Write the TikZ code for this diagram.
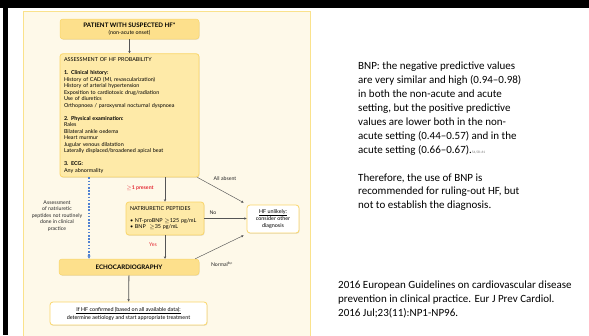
\documentclass[tikz,border=0pt]{standalone}
\usepackage{fontspec}
\setmainfont{Carlito}
\newfontfamily\flowfont{Lato}
\usetikzlibrary{positioning,shadows,arrows.meta}
\definecolor{panelback}{RGB}{254,249,233}
\definecolor{panelline}{RGB}{250,226,140}
\definecolor{boxgold}{RGB}{253,224,140}
\definecolor{boxlight}{RGB}{254,234,168}
\definecolor{boxedge}{RGB}{250,214,105}
\definecolor{arrowgrey}{RGB}{85,85,85}
\definecolor{labelred}{RGB}{228,40,50}
\definecolor{dotblue}{RGB}{80,130,210}

\tikzset{
  flowbox/.style={rounded corners=3pt,inner sep=4pt,font=\flowfont\fontsize{5.4}{6.5}\selectfont,
    drop shadow={opacity=0.18,shadow xshift=0.6pt,shadow yshift=-0.9pt}},
  goldbox/.style={flowbox,fill=boxgold,draw=boxedge,line width=0.5pt},
  lightbox/.style={flowbox,fill=boxlight,draw=boxedge,line width=0.8pt},
  whitebox/.style={flowbox,fill=white,draw=boxedge,line width=0.8pt},
  flowarrow/.style={draw=arrowgrey,line width=0.8pt,-{Stealth[length=2.4pt,width=2.4pt]}},
  thinarrow/.style={flowarrow,line width=0.45pt},
  dotarrow/.style={draw=dotblue,line width=1.3pt,dash pattern=on 1.6pt off 1.6pt,
    -{Stealth[length=3.2pt,width=3.4pt]}},
  flowlabel/.style={font=\flowfont\fontsize{5.2}{6.5}\selectfont,inner sep=0pt,text=black!85},
  redlabel/.style={flowlabel,text=labelred},
  sidetext/.style={font=\fontsize{11}{13.9}\selectfont,align=left,anchor=north west,inner sep=0pt}
}

\begin{document}
\begin{tikzpicture}[x=1pt,y=-1pt]
\useasboundingbox (0,0) rectangle (589,335);
% slide frame
\fill [white] (0,0) rectangle (589,335);
\filldraw [fill=panelback,draw=panelline,line width=0.6pt] (23,11) rectangle (310,337);
\fill [black] (0,0) rectangle (589,7.5);
\fill [black] (2.5,0) rectangle (8,335);

% flowchart
\node [goldbox,minimum width=139pt,minimum height=20pt,align=center] (patient) at (129.5,29)
  {{\bfseries\fontsize{6.2}{7}\selectfont PATIENT WITH SUSPECTED HF*}\\(non-acute onset)};
\node [lightbox,below=14pt of patient,text width=131pt,align=left] (assess)
  {ASSESSMENT OF HF PROBABILITY\\[6.5pt]
   {\bfseries 1. Clinical history:}\\
   History of CAD (MI, revascularization)\\
   History of arterial hypertension\\
   Exposition to cardiotoxic drug/radiation\\
   Use of diuretics\\
   Orthopnoea / paroxysmal nocturnal dyspnoea\\[6.5pt]
   {\bfseries 2. Physical examination:}\\
   Rales\\
   Bilateral ankle oedema\\
   Heart murmur\\
   Jugular venous dilatation\\
   Laterally displaced/broadened apical beat\\[6.5pt]
   {\bfseries 3. ECG:}\\
   Any abnormality};
\node [lightbox,text width=70pt,minimum height=33pt,align=left] (natri) at (165,218.5)
  {NATRIURETIC PEPTIDES\\[5pt]
   \textbullet\ NT-proBNP $\geq$125 pg/mL\\
   \textbullet\ BNP \ $\geq$35 pg/mL};
\node [whitebox,minimum width=52pt,minimum height=28pt,align=center,font=\flowfont\fontsize{5.4}{7.2}\selectfont] (unlikely) at (273,219)
  {\underline{HF unlikely:}\\consider other\\diagnosis};
\node [goldbox,minimum width=140pt,minimum height=16pt,font=\flowfont\bfseries\fontsize{6.2}{7}\selectfont] (echo) at (129,267)
  {ECHOCARDIOGRAPHY};
\node [whitebox,minimum width=157pt,minimum height=23pt,align=center,font=\flowfont\fontsize{5.4}{8}\selectfont] (final) at (128.5,313.5)
  {\underline{If HF confirmed (based on all available data):}\\
   determine aetiology and start appropriate treatment};

\draw [flowarrow] (patient) -- (assess);
\draw [flowarrow] (assess.south -| natri.north) -- (natri.north);
\draw [flowarrow] (natri.south) -- (natri.south |- echo.north);
\draw [flowarrow] (echo) -- (final);
\draw [flowarrow,line width=1.2pt] (natri.east) -- (natri.east -| unlikely.west);
\draw [thinarrow] ([xshift=-2pt]assess.south east) -- ([xshift=-3pt,yshift=2pt]unlikely.north west);
\draw [thinarrow] ([xshift=-4pt]echo.north east) -- ([xshift=-3pt,yshift=-2pt]unlikely.south west);
\draw [dotarrow] ([xshift=-40.5pt]assess.south) -- ([xshift=-40pt]echo.north);

\node [redlabel,font=\flowfont\bfseries\fontsize{5.2}{6.5}\selectfont] (present) at (140,188) {$\geq$1 present};
\node [redlabel] (yes) at (153,245) {Yes};
\node [flowlabel] (no) at (213,213) {No};
\node [flowlabel] (absent) at (225,179) {All absent};
\node [flowlabel] (normal) at (222,264) {Normal\textsuperscript{b,c}};
\node [flowlabel,align=center] (routine) at (57,216)
  {Assessment\\of natriuretic\\peptides not routinely\\done in clinical\\practice};

% notes on the right
\node [sidetext] (bnp) at (358,62)
  {BNP: the negative predictive values\\
   are very similar and high (0.94--0.98)\\
   in both the non-acute and acute\\
   setting, but the positive predictive\\
   values are lower both in the non-\\
   acute setting (0.44--0.57) and in the\\
   acute setting (0.66--0.67).{\fontsize{3.5}{4}\selectfont\color{black!55}54,58--61}\\[13.9pt]
   Therefore, the use of BNP is\\
   recommended for ruling-out HF, but\\
   not to establish the diagnosis.};
\node [sidetext] (source) at (338,281)
  {2016 European Guidelines on cardiovascular disease\\
   prevention in clinical practice. Eur J Prev Cardiol.\\
   2016 Jul;23(11):NP1-NP96.};
\end{tikzpicture}
\end{document}
